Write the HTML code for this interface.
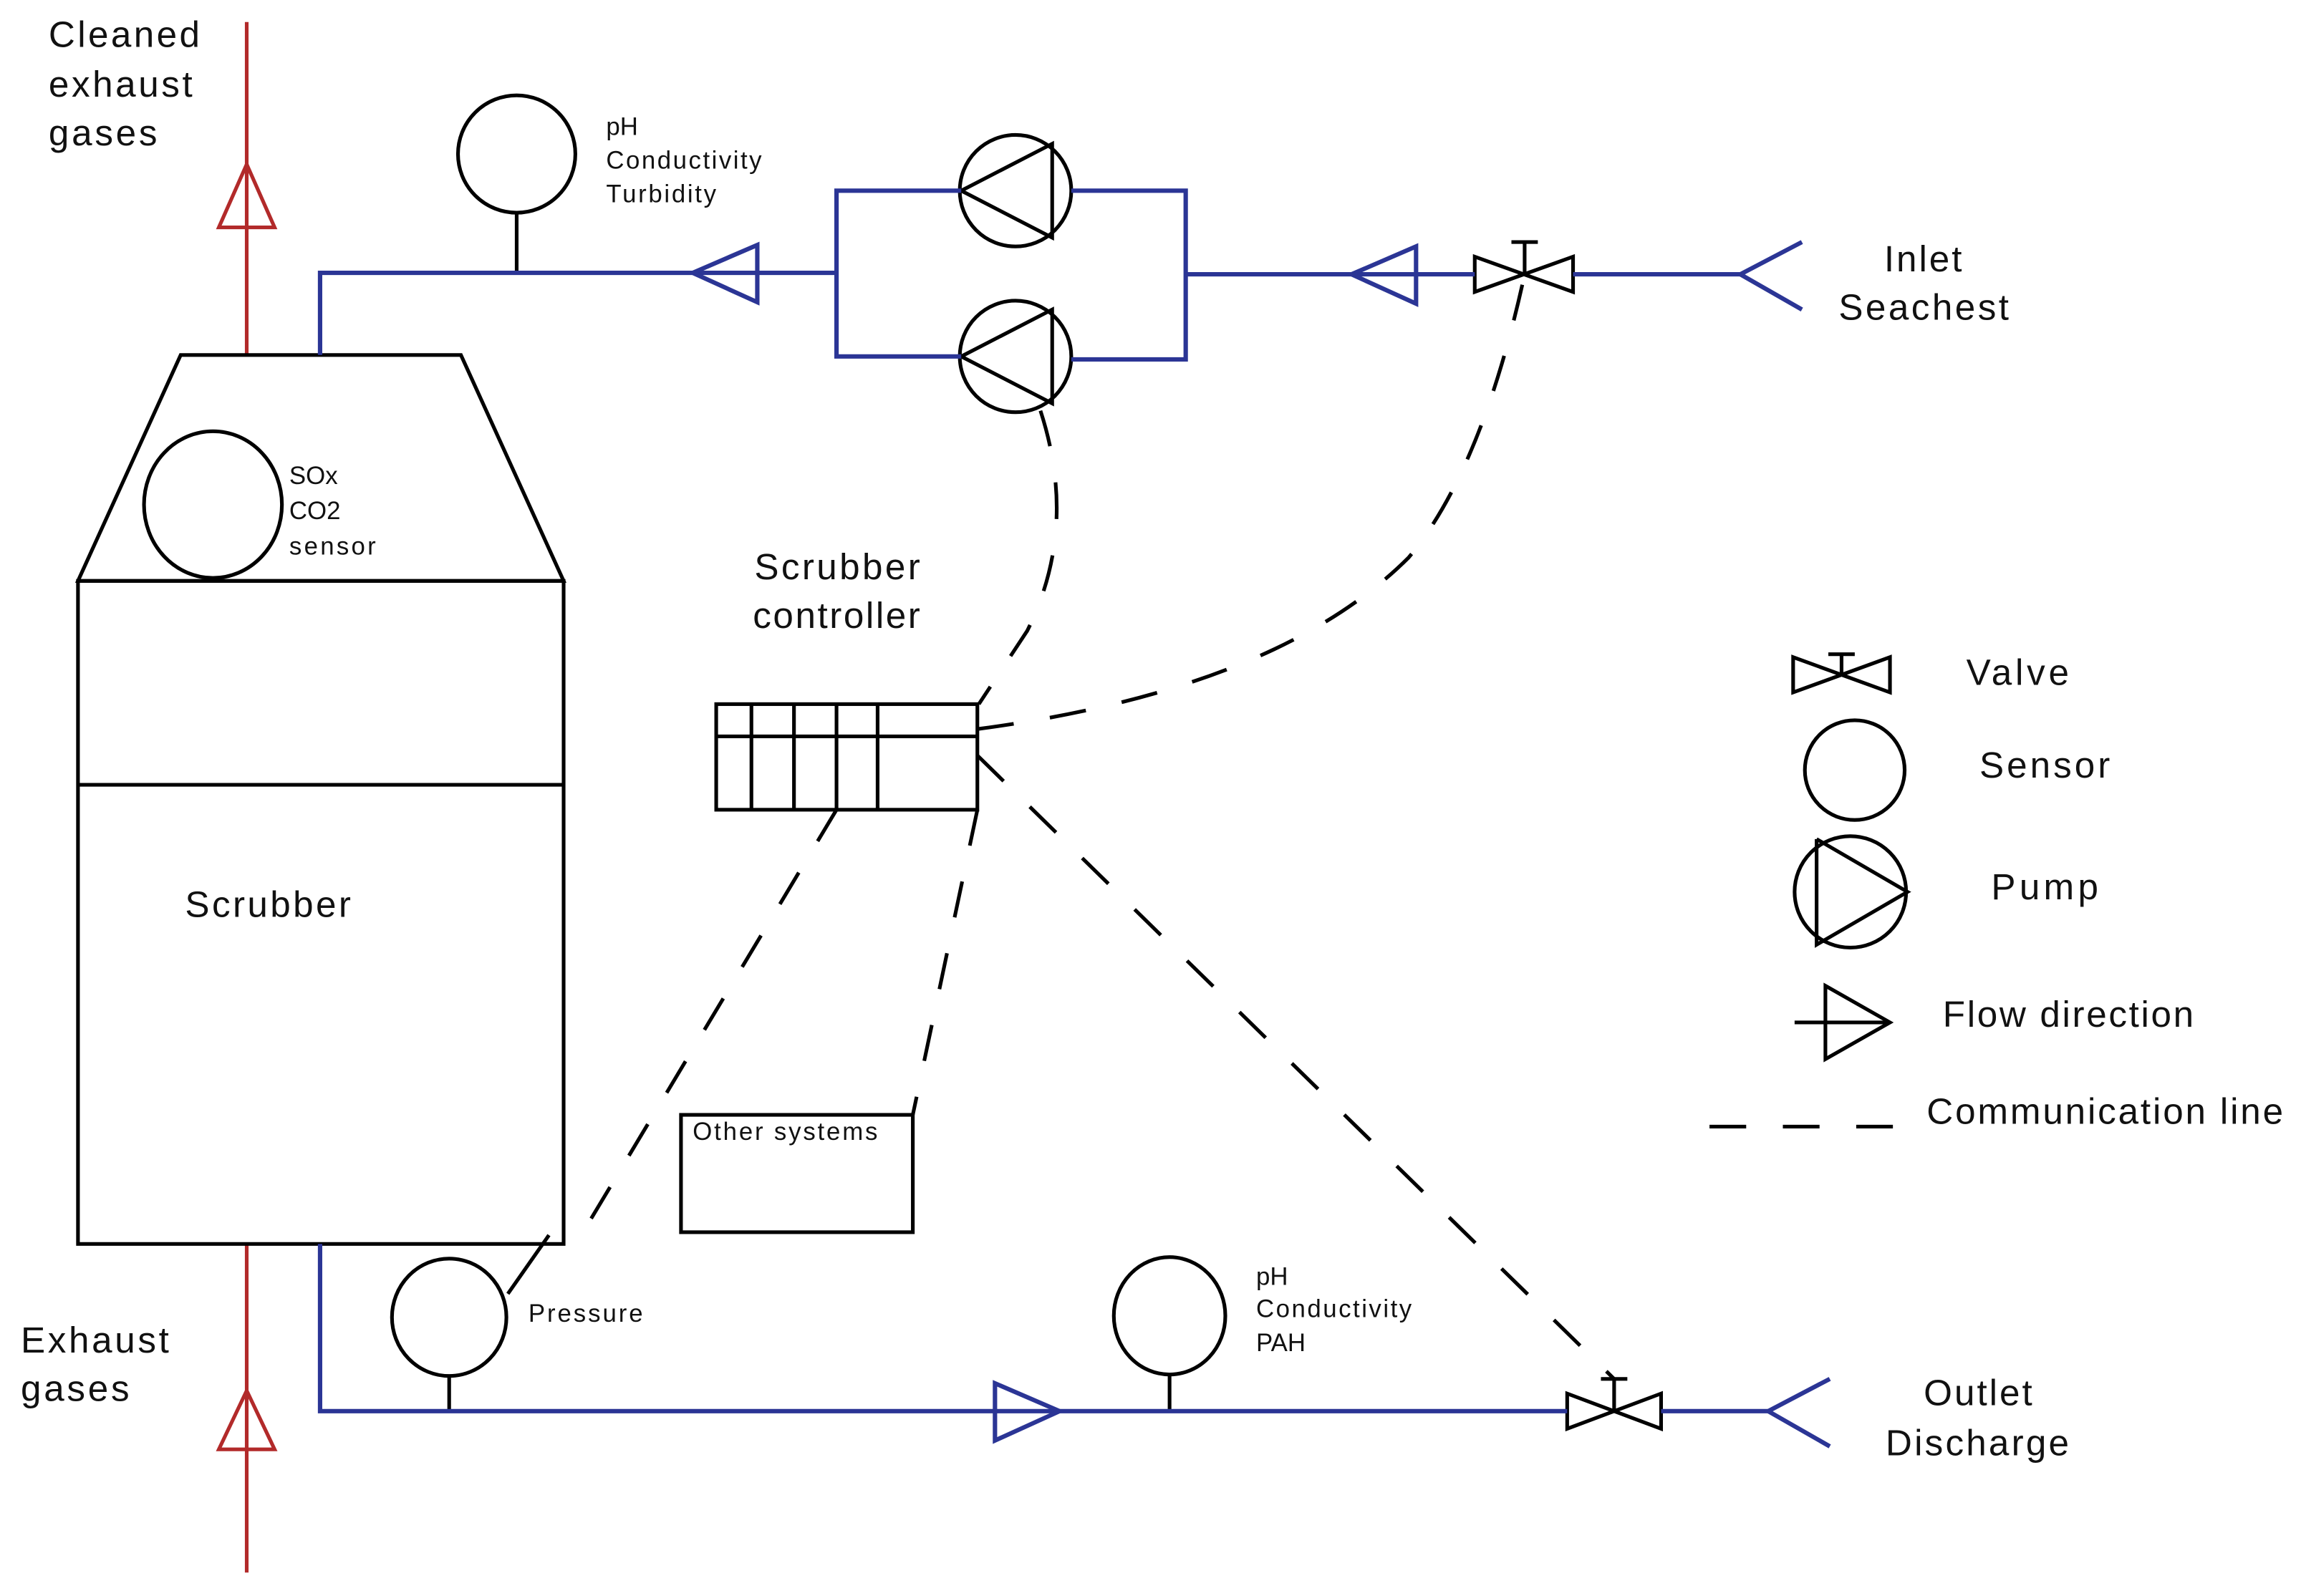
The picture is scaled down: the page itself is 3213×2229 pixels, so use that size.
<!DOCTYPE html>
<html><head><meta charset="utf-8"><style>html,body{margin:0;padding:0;background:#fff}svg{display:block}</style></head>
<body>
<svg width="3213" height="2229" viewBox="0 0 1568 1088" xmlns="http://www.w3.org/2000/svg" font-family="Liberation Sans, sans-serif">
<g stroke="#b22a2a" stroke-width="2.5" fill="none">
<line x1="168" y1="15" x2="168" y2="242"/>
<polygon points="168,112 149,155 187,155"/>
<line x1="168" y1="848" x2="168" y2="1072"/>
<polygon points="168,948 149,988 187,988"/>
</g>
<g stroke="#000" stroke-width="2.5" fill="none">
<polygon points="123,242 314,242 384,396 53,396"/>
<rect x="53" y="396" width="331" height="452"/>
<line x1="53" y1="535" x2="384" y2="535"/>
<ellipse cx="145" cy="344" rx="47" ry="50"/>
<ellipse cx="352" cy="105" rx="40" ry="40"/>
<line x1="352" y1="145" x2="352" y2="186"/>
<circle cx="692" cy="130" r="38"/>
<polyline points="655,130 717,98 717,162 655,130"/>
<circle cx="692" cy="243" r="38"/>
<polyline points="655,243 717,211 717,275 655,243"/>
<polygon points="1005,175 1005,199 1072,175 1072,199"/>
<line x1="1039" y1="187" x2="1039" y2="165"/><line x1="1030" y1="165" x2="1048" y2="165"/>
<polygon points="1068,950 1068,974 1132,950 1132,974"/>
<line x1="1100" y1="962" x2="1100" y2="940"/><line x1="1091" y1="940" x2="1109" y2="940"/>
<rect x="488" y="480" width="178" height="72"/>
<line x1="488" y1="502" x2="666" y2="502"/>
<line x1="512" y1="480" x2="512" y2="552"/><line x1="541" y1="480" x2="541" y2="552"/><line x1="570" y1="480" x2="570" y2="552"/><line x1="598" y1="480" x2="598" y2="552"/>
<rect x="464" y="760" width="158" height="80"/>
<ellipse cx="306" cy="898" rx="39" ry="40"/>
<line x1="306" y1="938" x2="306" y2="962"/>
<line x1="346" y1="882" x2="374" y2="842"/>
<ellipse cx="797" cy="897" rx="38" ry="40"/>
<line x1="797" y1="937" x2="797" y2="962"/>
<polygon points="1222,448 1222,472 1288,448 1288,472"/>
<line x1="1255" y1="460" x2="1255" y2="446"/><line x1="1246" y1="446" x2="1264" y2="446"/>
<ellipse cx="1264" cy="525" rx="34" ry="34"/>
<ellipse cx="1261" cy="608" rx="38" ry="38"/>
<polyline points="1238,572 1300,608 1238,644 1238,572"/>
<polygon points="1244,672 1288,697 1244,722"/>
<line x1="1223" y1="697" x2="1288" y2="697"/>
</g>
<g stroke="#000" stroke-width="2.5" fill="none" stroke-dasharray="25,25">
<path d="M709,280 Q735,360 700,430 L667,480"/>
<path d="M666,497 Q870,470 960,380 Q1010,320 1039,187"/>
<line x1="666" y1="515" x2="1100" y2="940"/>
<line x1="570" y1="552" x2="396" y2="842"/>
<line x1="666" y1="552" x2="622" y2="760"/>
<line x1="1165" y1="768" x2="1290" y2="768"/>
</g>
<g stroke="#2b3595" stroke-width="3" fill="none">
<polyline points="218,242 218,186 570,186"/>
<polygon points="472,186 516,167 516,206"/>
<polyline points="655,130 570,130 570,243 655,243"/>
<polyline points="730,130 808,130 808,245 730,245"/>
<line x1="808" y1="187" x2="1005" y2="187"/>
<polygon points="921,187 965,168 965,207"/>
<line x1="1072" y1="187" x2="1186" y2="187"/>
<polyline points="1228,165 1186,187 1228,211"/>
<polyline points="218,848 218,962 1068,962"/>
<polygon points="722,962 678,943 678,982"/>
<line x1="1132" y1="962" x2="1205" y2="962"/>
<polyline points="1247,940 1205,962 1247,986"/>
</g>
<g fill="#111" font-size="25" lengthAdjust="spacingAndGlyphs">
<text x="33" y="32" textLength="103">Cleaned</text><text x="33" y="66" textLength="98">exhaust</text><text x="33" y="99" textLength="74">gases</text>
<text x="14" y="922" textLength="101">Exhaust</text><text x="14" y="955" textLength="74">gases</text>
<text x="126" y="625" textLength="113">Scrubber</text>
<text x="514" y="395" textLength="113">Scrubber</text><text x="513" y="428" textLength="114">controller</text>
<text x="1284" y="185" textLength="53">Inlet</text><text x="1253" y="218" textLength="116">Seachest</text>
<text x="1311" y="958" textLength="74">Outlet</text><text x="1285" y="992" textLength="125">Discharge</text>
<text x="1340" y="467" textLength="70">Valve</text><text x="1349" y="530" textLength="89">Sensor</text><text x="1357" y="613" textLength="73">Pump</text>
<text x="1324" y="700" textLength="171">Flow direction</text><text x="1313" y="766" textLength="243">Communication line</text>
</g>
<g fill="#111" font-size="17">
<text x="197" y="330">SOx</text><text x="197" y="354">CO2</text><text x="197" y="378" textLength="59">sensor</text>
<text x="413" y="92">pH</text><text x="413" y="115" textLength="106">Conductivity</text><text x="413" y="138" textLength="75">Turbidity</text>
<text x="856" y="876">pH</text><text x="856" y="898" textLength="106">Conductivity</text><text x="856" y="921">PAH</text>
<text x="360" y="901" textLength="78">Pressure</text>
<text x="472" y="777" textLength="126">Other systems</text>
</g>
</svg>
</body></html>
